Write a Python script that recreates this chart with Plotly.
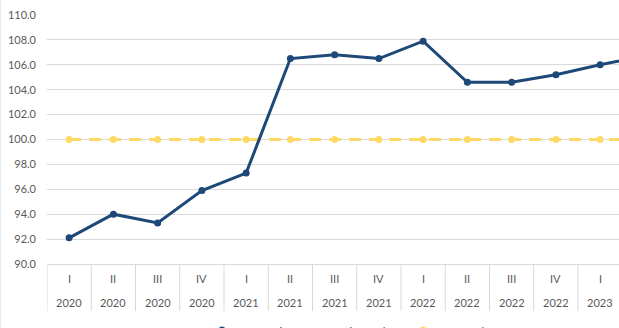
import plotly.graph_objects as go

quarters = ["I", "II", "III", "IV", "I", "II", "III", "IV", "I", "II", "III", "IV", "I", "II"]
years = ["2020", "2020", "2020", "2020", "2021", "2021", "2021", "2021",
         "2022", "2022", "2022", "2022", "2023", "2023"]
bpi = [92.1, 94.0, 93.3, 95.9, 97.3, 106.5, 106.8, 106.5, 107.9, 104.6, 104.6, 105.2, 106.0, 106.7]
neutral = [100.0] * len(bpi)

BLUE = "#1d4877"
YELLOW = "#ffd966"
GRID = "#d9d9d9"
TXT = "#595959"
FONT = "Lato"

W, H = 619, 328
L, T, B = 47, 15, 64
plot_h = H - T - B

def py(p):
    # pixel row -> paper y
    return (H - B - p) / plot_h

x = list(range(len(bpi)))

fig = go.Figure()
fig.add_trace(go.Scatter(x=x, y=neutral, mode="lines+markers", name="Neutral",
                         line=dict(color=YELLOW, width=3, dash="12px,8px"),
                         marker=dict(color=YELLOW, size=7), cliponaxis=True))
fig.add_trace(go.Scatter(x=x, y=bpi, mode="lines+markers", name="Business Perception Index",
                         line=dict(color=BLUE, width=3),
                         marker=dict(color=BLUE, size=7), cliponaxis=True))

shapes = []
annotations = []
for i in range(len(bpi)):
    shapes.append(dict(type="line", xref="x", yref="paper", x0=i - 0.5, x1=i - 0.5,
                       y0=0, y1=py(311), line=dict(color=GRID, width=1)))
    annotations.append(dict(x=i, y=py(278), xref="x", yref="paper", text=quarters[i],
                            showarrow=False, font=dict(family=FONT, size=11, color=TXT),
                            xanchor="center", yanchor="middle"))
    annotations.append(dict(x=i, y=py(302), xref="x", yref="paper", text=years[i],
                            showarrow=False, font=dict(family=FONT, size=11, color=TXT),
                            xanchor="center", yanchor="middle"))

# chart border (left edge)
shapes.append(dict(type="line", xref="paper", yref="paper", x0=-L / (W - L), x1=-L / (W - L),
                   y0=py(0), y1=py(H), line=dict(color=GRID, width=1)))

# legend (cut off at bottom like the reference)
def px_x(p):
    return (p - L) / (W - L)

leg_y = 330
for cx, col, label, tx in [(222, BLUE, "Business Perception Index", 258),
                           (423, YELLOW, "Neutral", 443)]:
    shapes.append(dict(type="line", xref="paper", yref="paper", x0=px_x(cx - 16), x1=px_x(cx + 16),
                       y0=py(leg_y), y1=py(leg_y), line=dict(color=col, width=3)))
    shapes.append(dict(type="circle", xref="paper", yref="paper",
                       x0=px_x(cx - 3.5), x1=px_x(cx + 3.5), y0=py(leg_y - 3.5), y1=py(leg_y + 3.5),
                       fillcolor=col, line=dict(color=col, width=0)))
    annotations.append(dict(x=px_x(tx), y=py(322), xref="paper", yref="paper", text=label,
                            showarrow=False, xanchor="left", yanchor="top",
                            font=dict(family=FONT, size=12, color=TXT)))

fig.update_layout(
    width=W, height=H,
    margin=dict(l=L, r=0, t=T, b=B, pad=0),
    paper_bgcolor="white", plot_bgcolor="white",
    showlegend=False,
    font=dict(family=FONT, size=11, color=TXT),
    xaxis=dict(range=[-0.5, (W - L) / 44.25 - 0.5], showgrid=False, zeroline=False,
               showticklabels=False, showline=True, linecolor=GRID, linewidth=1, ticks=""),
    yaxis=dict(range=[90, 110], dtick=2, tickformat=".1f", showgrid=True, gridcolor=GRID,
               gridwidth=1, zeroline=False, showline=False, ticks="",
               ticklabelstandoff=10, tickfont=dict(family=FONT, size=11, color=TXT)),
    shapes=shapes, annotations=annotations,
)

fig.write_html("out.html")
